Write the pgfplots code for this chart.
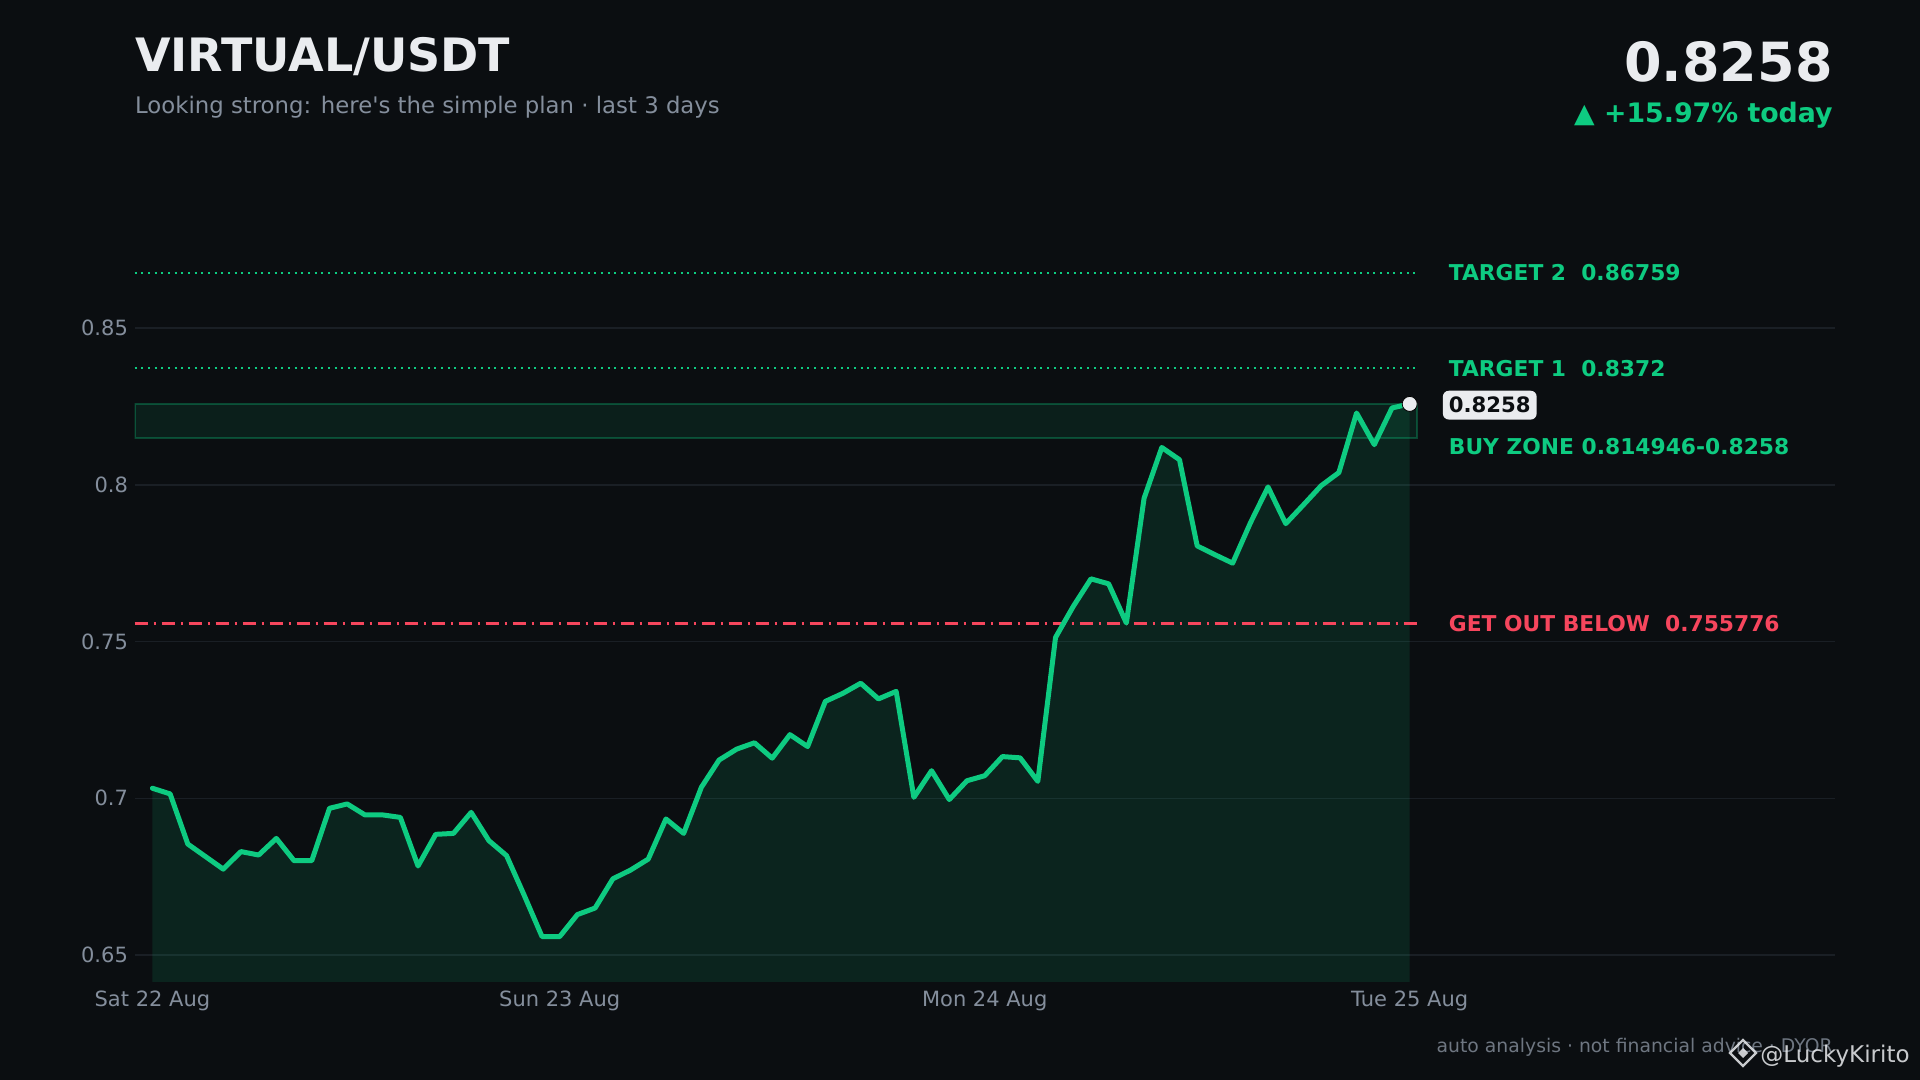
\documentclass[border=0pt]{standalone}
\usepackage{pgfplots}
\pgfplotsset{compat=1.18}
\usepackage{pgfplotstable}
\usepackage{fontspec}
\setmainfont{DejaVu Sans}
\definecolor{bgc}{HTML}{0B0E11}
\definecolor{upc}{HTML}{0ECB81}
\definecolor{dnc}{HTML}{F6465D}
\definecolor{wc}{HTML}{EAECEF}
\definecolor{greyc}{HTML}{848E9C}
\definecolor{footc}{HTML}{6E7681}
\definecolor{gridc}{HTML}{1A1F25}
\pgfplotstableread{
h v
1 0.7032
2 0.7014
3 0.6854
4 0.6814
5 0.6774
6 0.6830
7 0.6819
8 0.6872
9 0.6801
10 0.6801
11 0.6968
12 0.6982
13 0.6947
14 0.6947
15 0.6939
16 0.6784
17 0.6885
18 0.6888
19 0.6955
20 0.6865
21 0.6817
22 0.6690
23 0.6559
24 0.6559
25 0.6629
26 0.6650
27 0.6743
28 0.6771
29 0.6806
30 0.6934
31 0.6888
32 0.7035
33 0.7122
34 0.7157
35 0.7177
36 0.7128
37 0.7203
38 0.7165
39 0.7309
40 0.7335
41 0.7367
42 0.7317
43 0.7341
44 0.7003
45 0.7088
46 0.6996
47 0.7056
48 0.7072
49 0.7133
50 0.7129
51 0.7054
52 0.7513
53 0.7612
54 0.7700
55 0.7684
56 0.7559
57 0.7957
58 0.8119
59 0.8080
60 0.7805
61 0.7777
62 0.7750
63 0.7878
64 0.7993
65 0.7876
66 0.7936
67 0.7997
68 0.8039
69 0.8229
70 0.8128
71 0.8245
72 0.8258
}\pricedata
\begin{document}
\begin{tikzpicture}
\fill[bgc] (0,0) rectangle (960pt,540pt);
\useasboundingbox (0,0) rectangle (960pt,540pt);
\begin{axis}[
  at={(67.35pt,49pt)}, anchor=south west,
  scale only axis, width=850pt, height=374pt,
  xmin=0, xmax=96, ymin=0.6414, ymax=0.88,
  axis line style={draw=none},
  major tick length=0pt,
  clip mode=individual,
  ytick={0.65,0.7,0.75,0.8,0.85},
  yticklabels={0.65,0.7,0.75,0.8,0.85},
  xtick={1,24,48,72},
  xticklabels={Sat 22 Aug,Sun 23 Aug,Mon 24 Aug,Tue 25 Aug},
  ymajorgrids,
  grid style={draw=gridc, line width=0.75pt},
  yticklabel style={font=\fontsize{10.5}{12}\selectfont, text=greyc, anchor=east, inner sep=0pt, xshift=-3.2pt},
  xticklabel style={font=\fontsize{10.5}{12}\selectfont, text=greyc, anchor=north, inner sep=0pt, yshift=-4.5pt},
  axis on top=false,
]
% area under price
\addplot[draw=none, fill=upc, fill opacity=0.12] table[x=h,y=v]{\pricedata} \closedcycle;
% buy zone
\addplot[draw=upc, draw opacity=0.3, line width=0.8pt, fill=upc, fill opacity=0.09] coordinates {(0,0.814946) (72.4,0.814946) (72.4,0.8258) (0,0.8258)} -- cycle;
% targets
\addplot[upc, line width=1pt, dash pattern=on 1pt off 2.33pt] coordinates {(0,0.86759) (72.4,0.86759)};
\addplot[upc, line width=1pt, dash pattern=on 1pt off 2.33pt] coordinates {(0,0.8372) (72.4,0.8372)};
% stop
\addplot[dnc, line width=1.4pt, dash pattern=on 6.5pt off 3pt on 1pt off 3pt] coordinates {(0,0.755776) (72.4,0.755776)};
% price line
\addplot[upc, line width=2.5pt, line join=round, line cap=round] table[x=h,y=v]{\pricedata};
% last point
\addplot[only marks, mark=*, mark size=3.75pt, mark options={fill=wc, draw=none}] coordinates {(72,0.8258)};
% labels
\node[anchor=west, inner sep=0pt, text=upc, font=\fontsize{10.9}{13}\selectfont\bfseries] at (axis cs:74.19,0.86759) {TARGET 2\ \ 0.86759};
\node[anchor=west, inner sep=0pt, text=upc, font=\fontsize{10.9}{13}\selectfont\bfseries] at (axis cs:74.19,0.8372) {TARGET 1\ \ 0.8372};
\node[anchor=west, fill=wc, rounded corners=3pt, inner xsep=3pt, inner ysep=3.2pt, text=bgc, font=\fontsize{10.6}{13}\selectfont\bfseries] at (axis cs:73.85,0.8254) {0.8258};
\node[anchor=north west, inner sep=0pt, text=upc, font=\fontsize{10.9}{13}\selectfont\bfseries] at (axis cs:74.19,0.81494) {BUY ZONE 0.814946-0.8258};
\node[anchor=west, inner sep=0pt, text=dnc, font=\fontsize{10.9}{13}\selectfont\bfseries] at (axis cs:74.19,0.755776) {GET OUT BELOW\ \ 0.755776};
\end{axis}
% header
\node[anchor=base west, inner sep=0pt, text=wc, font=\fontsize{23}{27}\selectfont\bfseries] at (67.35pt,504pt) {VIRTUAL/USDT};
\node[anchor=base west, inner sep=0pt, text=greyc, font=\fontsize{11.4}{13}\selectfont] at (67.35pt,483pt) {Looking strong: here\textquotesingle s the simple plan · last 3 days};
\node[anchor=base east, inner sep=0pt, text=wc, font=\fontsize{27}{31}\selectfont\bfseries] at (916.5pt,499pt) {0.8258};
\node[anchor=base east, inner sep=0pt, text=upc, font=\fontsize{13.4}{15}\selectfont\bfseries] at (916.5pt,478.75pt) {▲ +15.97\% today};
% footer
\node[anchor=base east, inner sep=0pt, text=footc, font=\fontsize{9.4}{11}\selectfont] at (916.5pt,13.5pt) {auto analysis · not financial advice · DYOR};
\node[anchor=base east, inner sep=0pt, text=wc, opacity=0.85, font=\fontsize{11.5}{13}\selectfont] at (955pt,8.5pt) {@LuckyKirito};
\begin{scope}[shift={(871.5pt,13.5pt)}, wc, opacity=0.85, line width=1.2pt]
\draw (0,-6.5pt) -- (6.5pt,0) -- (0,6.5pt) -- (-6.5pt,0) -- cycle;
\fill (0,-2.5pt) -- (2.5pt,0) -- (0,2.5pt) -- (-2.5pt,0) -- cycle;
\end{scope}
\end{tikzpicture}
\end{document}
